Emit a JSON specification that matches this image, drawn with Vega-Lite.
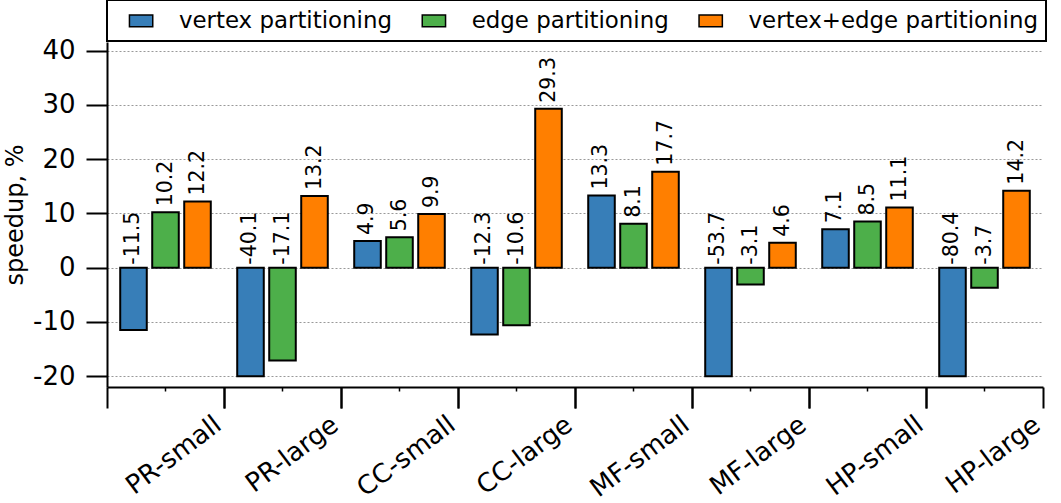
{
  "$schema": "https://vega.github.io/schema/vega-lite/v6.json",
  "width": 936,
  "height": 345,
  "autosize": {"type": "none"},
  "padding": {"left": 107, "top": 42, "right": 18, "bottom": 116},
  "background": "white",
  "config": {
    "view": {"stroke": null},
    "locale": {"number": {"decimal": ".", "thousands": ",", "grouping": [3], "currency": ["$", ""], "minus": "-"}},
    "legend": {"strokeWidth": 2}
  },
  "data": {
    "values": [
      {"group": "PR-small", "series": "vertex partitioning", "speedup": -11.5},
      {"group": "PR-small", "series": "edge partitioning", "speedup": 10.2},
      {"group": "PR-small", "series": "vertex+edge partitioning", "speedup": 12.2},
      {"group": "PR-large", "series": "vertex partitioning", "speedup": -40.1},
      {"group": "PR-large", "series": "edge partitioning", "speedup": -17.1},
      {"group": "PR-large", "series": "vertex+edge partitioning", "speedup": 13.2},
      {"group": "CC-small", "series": "vertex partitioning", "speedup": 4.9},
      {"group": "CC-small", "series": "edge partitioning", "speedup": 5.6},
      {"group": "CC-small", "series": "vertex+edge partitioning", "speedup": 9.9},
      {"group": "CC-large", "series": "vertex partitioning", "speedup": -12.3},
      {"group": "CC-large", "series": "edge partitioning", "speedup": -10.6},
      {"group": "CC-large", "series": "vertex+edge partitioning", "speedup": 29.3},
      {"group": "MF-small", "series": "vertex partitioning", "speedup": 13.3},
      {"group": "MF-small", "series": "edge partitioning", "speedup": 8.1},
      {"group": "MF-small", "series": "vertex+edge partitioning", "speedup": 17.7},
      {"group": "MF-large", "series": "vertex partitioning", "speedup": -53.7},
      {"group": "MF-large", "series": "edge partitioning", "speedup": -3.1},
      {"group": "MF-large", "series": "vertex+edge partitioning", "speedup": 4.6},
      {"group": "HP-small", "series": "vertex partitioning", "speedup": 7.1},
      {"group": "HP-small", "series": "edge partitioning", "speedup": 8.5},
      {"group": "HP-small", "series": "vertex+edge partitioning", "speedup": 11.1},
      {"group": "HP-large", "series": "vertex partitioning", "speedup": -80.4},
      {"group": "HP-large", "series": "edge partitioning", "speedup": -3.7},
      {"group": "HP-large", "series": "vertex+edge partitioning", "speedup": 14.2}
    ]
  },
  "layer": [
    {
      "mark": {"type": "bar", "stroke": "black", "strokeWidth": 2},
      "encoding": {
        "x": {
          "field": "group", "type": "nominal",
          "sort": ["PR-small", "PR-large", "CC-small", "CC-large", "MF-small", "MF-large", "HP-small", "HP-large"],
          "scale": {"paddingInner": 0, "paddingOuter": 0},
          "axis": {"orient": "bottom", "bandPosition": 0, "labels": false, "title": null, "grid": false, "tickSize": 21, "tickWidth": 2, "tickColor": "black", "domainColor": "black", "domainWidth": 2}
        },
        "xOffset": {
          "field": "series", "type": "nominal",
          "sort": ["vertex partitioning", "edge partitioning", "vertex+edge partitioning"],
          "scale": {"paddingInner": 0.17, "paddingOuter": 0.413}
        },
        "y": {
          "field": "speedup", "type": "quantitative", "stack": null,
          "scale": {"domain": [-20, 41.6], "range": [334.15, 0], "clamp": true, "nice": false, "zero": false},
          "axis": null
        },
        "color": {
          "field": "series", "type": "nominal",
          "sort": ["vertex partitioning", "edge partitioning", "vertex+edge partitioning"],
          "scale": {"domain": ["vertex partitioning", "edge partitioning", "vertex+edge partitioning"], "range": ["#377eb8", "#4daf4a", "#ff7f00"]},
          "legend": {
            "orient": "none", "legendX": 0, "legendY": -42, "direction": "horizontal", "title": null,
            "symbolType": "M-1,-0.5H1V0.5H-1Z", "symbolSize": 543, "symbolStrokeColor": "black", "symbolStrokeWidth": 1.5, "symbolOpacity": 1,
            "symbolOffset": 13.6, "labelOffset": 25.3, "columnPadding": 15.8, "padding": 8,
            "strokeColor": "black", "fillColor": "white",
            "labelFont": "DejaVu Sans", "labelFontSize": 22.9, "labelColor": "black", "labelLimit": 500
          }
        }
      }
    },
    {
      "transform": [{"filter": "datum.speedup >= 0"}],
      "mark": {"type": "text", "angle": 270, "align": "left", "baseline": "middle", "dx": 6, "font": "DejaVu Sans", "fontSize": 20.5, "color": "black"},
      "encoding": {
        "x": {
          "field": "group", "type": "nominal",
          "sort": ["PR-small", "PR-large", "CC-small", "CC-large", "MF-small", "MF-large", "HP-small", "HP-large"],
          "axis": {"orient": "bottom", "bandPosition": 1, "title": null, "domain": false, "grid": false, "tickSize": 21, "tickWidth": 2, "tickColor": "black", "labelAngle": -37, "labelAlign": "right", "labelBaseline": "top", "labelPadding": 3, "labelOffset": 45, "labelFont": "DejaVu Sans", "labelFontSize": 26, "labelColor": "black", "labelOverlap": false}
        },
        "xOffset": {
          "field": "series", "type": "nominal",
          "sort": ["vertex partitioning", "edge partitioning", "vertex+edge partitioning"]
        },
        "y": {
          "field": "speedup", "type": "quantitative",
          "scale": {"domain": [-22, 41.6], "nice": false, "zero": false},
          "axis": {"values": [-20, -10, 0, 10, 20, 30, 40], "title": "speedup, %", "grid": true, "gridDash": [2, 2], "gridColor": "#999999", "gridWidth": 1, "tickSize": 21, "tickWidth": 2, "tickColor": "black", "domainColor": "black", "domainWidth": 2, "labelFont": "DejaVu Sans", "labelFontSize": 26, "labelColor": "black", "labelPadding": 11, "titleFont": "DejaVu Sans", "titleFontSize": 24, "titleFontWeight": "normal", "titleColor": "black", "titlePadding": 5}
        },
        "text": {"field": "speedup", "type": "quantitative", "format": ".1f"}
      }
    },
    {
      "transform": [{"filter": "datum.speedup < 0"}],
      "mark": {"type": "text", "angle": 270, "align": "left", "baseline": "middle", "dx": 3, "font": "DejaVu Sans", "fontSize": 20.5, "color": "black"},
      "encoding": {
        "x": {
          "field": "group", "type": "nominal",
          "sort": ["PR-small", "PR-large", "CC-small", "CC-large", "MF-small", "MF-large", "HP-small", "HP-large"],
          "axis": {"orient": "bottom", "bandPosition": 0.5, "labels": false, "title": null, "domain": false, "grid": false, "tickSize": 4, "tickWidth": 1.5, "tickColor": "black"}
        },
        "xOffset": {
          "field": "series", "type": "nominal",
          "sort": ["vertex partitioning", "edge partitioning", "vertex+edge partitioning"]
        },
        "y": {
          "datum": 0, "type": "quantitative",
          "scale": {"domain": [-22, 41.6], "nice": false, "zero": false},
          "axis": null
        },
        "text": {"field": "speedup", "type": "quantitative", "format": ".1f"}
      }
    }
  ],
  "resolve": {"scale": {"y": "independent"}, "axis": {"x": "independent"}}
}
